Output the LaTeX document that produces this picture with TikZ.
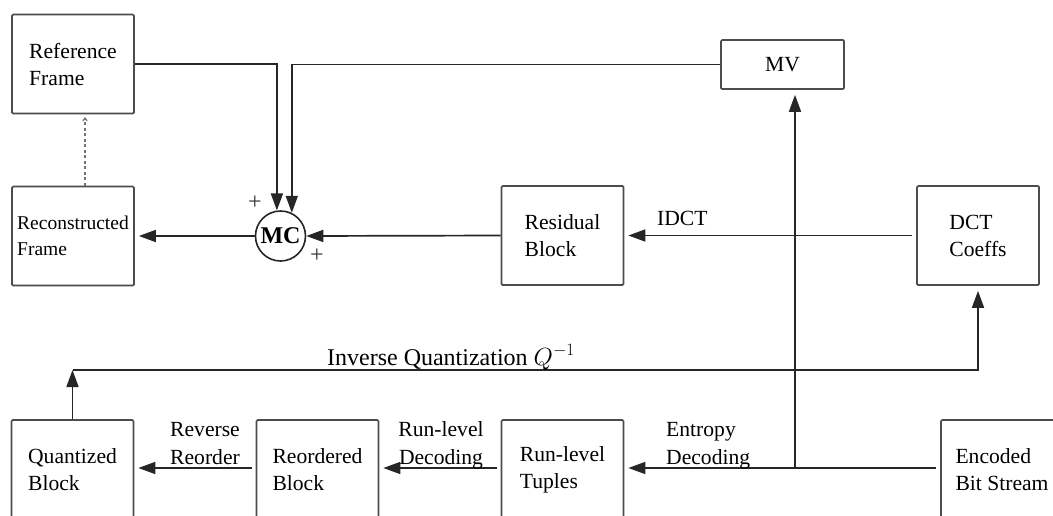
\documentclass[tikz,border=0pt]{standalone}
\usepackage{fontspec}
\setmainfont{Liberation Serif}
\usetikzlibrary{arrows.meta}
\begin{document}
\begin{tikzpicture}[x=1pt,y=-1pt,
  blk/.style={draw=black!70, line width=1.7pt, rounded corners=1.2pt, minimum width=122pt, minimum height=99pt, align=left, font=\fontsize{21.6}{27}\selectfont, inner sep=0pt},
  conn/.style={line width=1.7pt, draw=black!85},
  arr/.style={conn, -{Triangle[length=17pt,width=12pt]}},
  lbl/.style={font=\fontsize{21.6}{28}\selectfont, inner sep=0pt},
  plus/.style={font=\fontsize{24}{24}\selectfont, inner sep=0pt, text=black!80}]
\useasboundingbox (0,0) rectangle (1053,515);
% boxes
\node[blk] (ref) at (73,64) {Reference\\Frame};
\node[blk, font=\fontsize{19.5}{26}\selectfont] (rec) at (73,236) {Reconstructed\\Frame};
\node[draw=black!85, line width=1.6pt, circle, minimum size=50pt, inner sep=0pt, font=\bfseries\fontsize{24}{24}\selectfont] (mc) at (280.5,236) {MC};
\node[blk] (res) at (562.5,235.5) {Residual\\Block};
\node[blk] (dct) at (978,235.5) {DCT\\Coeffs};
\node[blk, minimum height=49pt, minimum width=123pt] (mv) at (782.5,64.5) {MV};
\node[blk] (qb) at (72.5,469.5) {Quantized\\Block};
\node[blk] (rb) at (317.5,469.5) {Reordered\\Block};
\node[blk] (rt) at (562.5,469.5) {Run-level\\Tuples};
\node[blk] (eb) at (1002,469.5) {Encoded\\Bit Stream};
% signs
\node[plus] (p1) at (255,203) {+};
\node[plus] (p2) at (317,256) {+};
% coordinates
\coordinate (jm) at (795,468);
\coordinate (qtop) at (72.5,370);
% connectors
\draw[arr] (ref.east) -| (mc.98);
\draw[arr] (mv.west) -| (mc.64);
\draw[arr] (res.west) -- (mc.east);
\draw[arr, shorten >=4pt] (mc.west) -- (rec.east);
\draw[black!55, line width=1.2pt, dash pattern=on 3pt off 2.5pt, -{To[length=4pt,width=5pt]}, shorten >=3pt] ([xshift=12pt]rec.north) -- ([xshift=12pt]ref.south);
\draw[arr, shorten >=4pt, shorten <=4pt] (dct.west) -- (res.east);
\draw[arr, shorten >=4pt, shorten <=4pt] (eb.west |- jm) -- (rt.east |- jm);
\draw[arr, shorten >=5pt] (jm) -- (mv.south -| jm);
\draw[arr, shorten >=4pt, shorten <=4pt] (rt.west |- jm) -- (rb.east |- jm);
\draw[arr, shorten >=4pt, shorten <=4pt] (rb.west |- jm) -- (qb.east |- jm);
\draw[arr] (qb.north) -- (qtop);
\draw[arr, shorten >=5pt] (qtop) -| (dct.south);
% labels
\node[lbl, anchor=base west] (lidct) at (657,225) {IDCT};
\node[lbl, font=\fontsize{24}{28}\selectfont, anchor=base] (linv) at (451,365) {Inverse Quantization $Q^{-1}$};
\node[lbl, align=left, anchor=base west] (lent) at (666,464) {Entropy\\Decoding};
\node[lbl, align=center, anchor=base] (lrld) at (441,464) {Run-level\\Decoding};
\node[lbl, align=center, anchor=base] (lrev) at (205,464) {Reverse\\Reorder};
\end{tikzpicture}
\end{document}
